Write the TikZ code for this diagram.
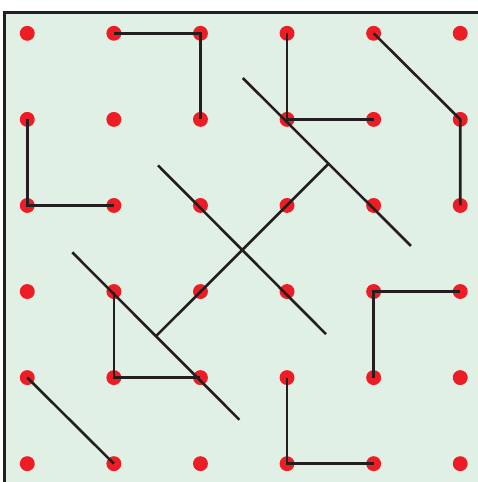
\documentclass[tikz,border=0pt]{standalone}
\usetikzlibrary{positioning}
\definecolor{dotred}{HTML}{EE1C25}
\definecolor{paper}{HTML}{E1F0E5}
\definecolor{ink}{HTML}{231F20}
\tikzset{
  dot/.style={circle,fill=dotred,inner sep=0pt,minimum size=4.9pt},
  stick/.style={ink,line width=0.85pt},
}

\begin{document}
\begin{tikzpicture}[x=1cm,y=-0.994cm]
  \useasboundingbox (-0.315,-0.387) rectangle (5.204,5.213);
  \begin{scope}
    \clip (-0.315,-0.387) rectangle (5.204,5.213);
    \draw[ink,line width=1pt,fill=paper] (-0.2575,-0.247) rectangle (5.2575,5.26);
  \end{scope}
  % grid of dots
  \foreach \i in {0,...,5}
    \foreach \j in {0,...,5}
      \node[dot] (d\i\j) at (\i,\j) {};
  % corners
  \draw[stick] (d10.center) -- (d20.center) -- (d21.center);
  \draw[stick] (d30.center) -- (d31.center) -- (d41.center);
  \draw[stick] (d40.center) -- (d51.center) -- (d52.center);
  \draw[stick] (d01.center) -- (d02.center) -- (d12.center);
  \draw[stick] (d13.center) -- (d14.center) -- (d24.center);
  \draw[stick] (d53.center) -- (d43.center) -- (d44.center);
  \draw[stick] (d04.center) -- (d15.center);
  \draw[stick] (d34.center) -- (d35.center) -- (d45.center);
  % long diagonals
  \coordinate (a1) at (2.49,0.52);
  \coordinate (a2) at (4.43,2.47);
  \coordinate (b1) at (1.51,1.535);
  \coordinate (b2) at (3.45,3.495);
  \coordinate (c1) at (0.52,2.545);
  \coordinate (c2) at (2.45,4.49);
  \coordinate (j1) at (3.475,1.52);
  \coordinate (j2) at (1.485,3.52);
  \draw[stick] (a1) -- (a2);
  \draw[stick] (b1) -- (b2);
  \draw[stick] (c1) -- (c2);
  \draw[stick] (j1) -- (j2);
\end{tikzpicture}
\end{document}
